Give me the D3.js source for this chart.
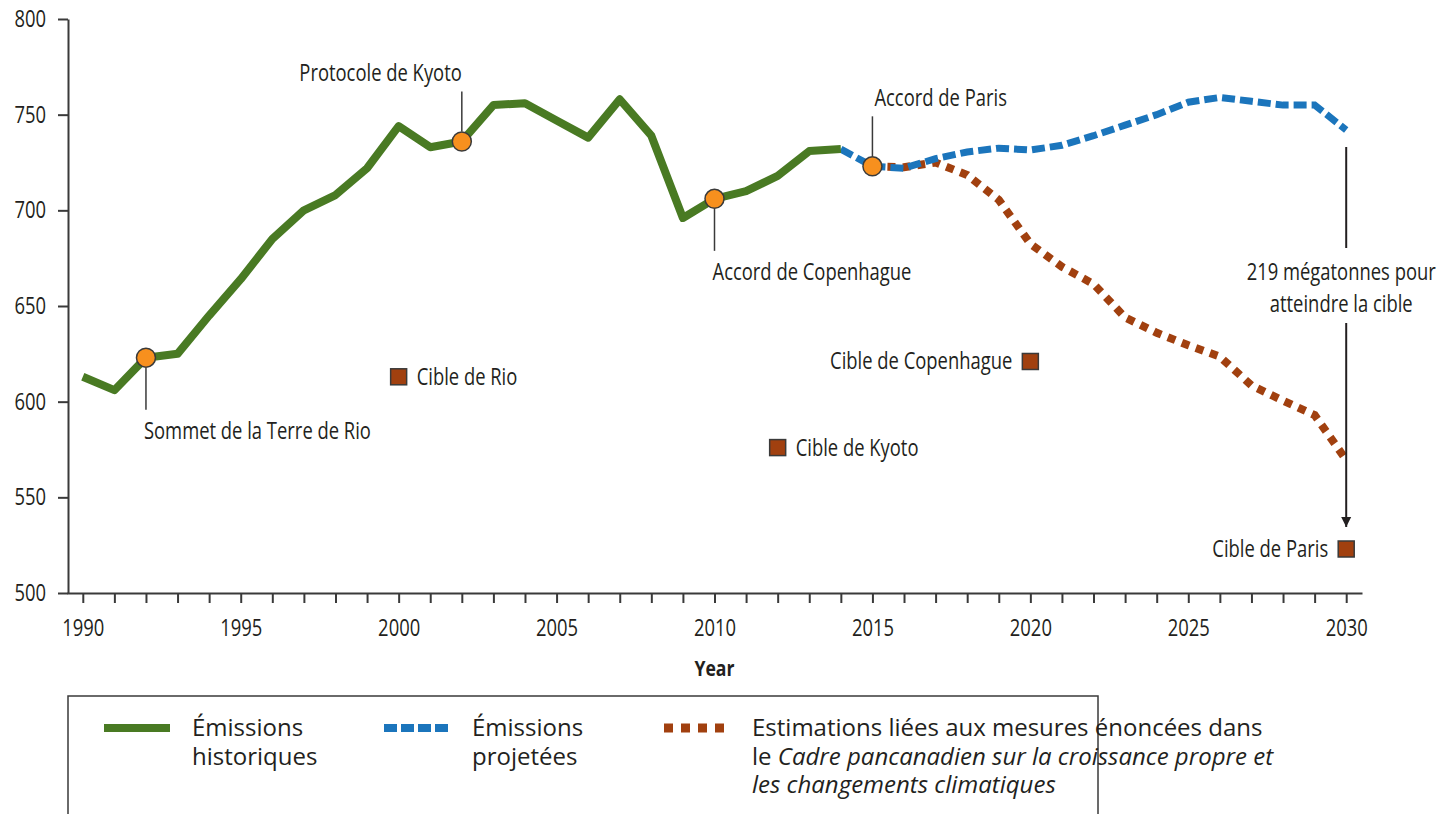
<!DOCTYPE html>
<html>
<head>
<meta charset="utf-8">
<script src="https://cdn.jsdelivr.net/npm/d3@7"></script>
<style>
  body { margin: 0; background: #fff; }
  svg text { fill: #231f20; }
</style>
</head>
<body>
<div id="container"></div>
<script>
/* DATA */
const histYears = d3.range(1990, 2015);
const histValues = [613, 606, 623, 625, 645, 664, 685, 700, 708, 722, 744, 733, 736, 755, 756, 747, 738, 758, 739, 696, 706, 710, 718, 731, 732];

const projYears = d3.range(2014, 2031);
const projValues = [732, 723, 722, 727, 730.5, 732.5, 731.5, 734, 739, 744.5, 750, 756.5, 759, 757, 755, 755, 742];

const estYears = d3.range(2015, 2031);
const estValues = [723, 722.5, 725, 718.5, 705.5, 682.5, 670.5, 661.5, 644, 636, 629.5, 623.5, 608.5, 600.5, 593, 569.5];

const milestones = [
  { year: 1992, value: 623, label: "Sommet de la Terre de Rio", pos: "below" },
  { year: 2002, value: 736, label: "Protocole de Kyoto", pos: "above-left" },
  { year: 2010, value: 706, label: "Accord de Copenhague", pos: "below" },
  { year: 2015, value: 723, label: "Accord de Paris", pos: "above" }
];

const targets = [
  { year: 2000, value: 613, label: "Cible de Rio", side: "right" },
  { year: 2012, value: 576, label: "Cible de Kyoto", side: "right" },
  { year: 2020, value: 621, label: "Cible de Copenhague", side: "left" },
  { year: 2030, value: 523, label: "Cible de Paris", side: "left" }
];

const yTicks = [500, 550, 600, 650, 700, 750, 800];

/* CONSTANTS */
const width = 1440, height = 814;
const green = "#497a23", blue = "#1b75bc", brown = "#a1400f";
const circleFill = "#f7901e", squareFill = "#a1400f";
const labelFont = "'Open Sans', sans-serif";
const labelSize = 23;
const squeezeK = 0.8;   // fake a condensed face

// squash text horizontally to look like a condensed font
function squeeze(sel, k = squeezeK) {
  sel.each(function() {
    const len = this.getComputedTextLength();
    if (len > 0) d3.select(this).attr("textLength", len * k).attr("lengthAdjust", "spacingAndGlyphs");
  });
}

const svg = d3.select("#container").append("svg")
  .attr("width", width).attr("height", height);

// scales
const x = d3.scaleLinear().domain([1989.5, 2030.5]).range([67, 1362]);
const y = d3.scaleLinear().domain([500, 800]).range([593, 19]);

// y axis
const yAxis = svg.append("g")
  .attr("transform", "translate(68,0)")
  .call(d3.axisLeft(y).tickValues(yTicks).tickSize(10).tickSizeOuter(0).tickPadding(12));

// x axis
const xAxis = svg.append("g")
  .attr("transform", "translate(0,593)")
  .call(d3.axisBottom(x).tickValues(d3.range(1990, 2031)).tickSize(10).tickSizeOuter(0).tickPadding(17)
    .tickFormat(d => d % 5 === 0 ? d : ""));

svg.selectAll(".domain, .tick line").attr("stroke", "#3a3a3a").attr("stroke-width", 2);
svg.selectAll(".tick text").attr("font-family", labelFont).attr("font-size", labelSize).attr("fill", "#231f20");
squeeze(svg.selectAll(".tick text"));

squeeze(svg.append("text")
  .attr("x", x(2010)).attr("y", 676)
  .attr("text-anchor", "middle")
  .attr("font-family", labelFont).attr("font-size", 22).attr("font-weight", "bold")
  .text("Year"));

// lines
const line = d3.line().x(d => x(d[0])).y(d => y(d[1]));

svg.append("path")
  .attr("d", line(d3.zip(estYears, estValues)))
  .attr("fill", "none").attr("stroke", brown).attr("stroke-width", 8)
  .attr("stroke-dasharray", "8 7");

svg.append("path")
  .attr("d", line(d3.zip(projYears, projValues)))
  .attr("fill", "none").attr("stroke", blue).attr("stroke-width", 7)
  .attr("stroke-dasharray", "13 5");

svg.append("path")
  .attr("d", line(d3.zip(histYears, histValues)))
  .attr("fill", "none").attr("stroke", green).attr("stroke-width", 8)
  .attr("stroke-linejoin", "round");

// milestone leader lines + labels
milestones.forEach(m => {
  const cx = x(m.year), cy = y(m.value);
  const g = svg.append("g");
  if (m.pos === "below") {
    g.append("line").attr("x1", cx).attr("x2", cx).attr("y1", cy + 10).attr("y2", cy + 52)
      .attr("stroke", "#3a3a3a").attr("stroke-width", 1.5);
    squeeze(g.append("text").attr("x", cx - 2).attr("y", cy + 81)
      .attr("font-family", labelFont).attr("font-size", labelSize).text(m.label));
  } else {
    g.append("line").attr("x1", cx).attr("x2", cx).attr("y1", cy - 10).attr("y2", cy - 50)
      .attr("stroke", "#3a3a3a").attr("stroke-width", 1.5);
    squeeze(g.append("text").attr("x", m.pos === "above" ? cx + 2 : cx)
      .attr("y", cy - 60)
      .attr("text-anchor", m.pos === "above" ? "start" : "end")
      .attr("font-family", labelFont).attr("font-size", labelSize).text(m.label));
  }
});

svg.selectAll("circle.milestone")
  .data(milestones)
  .join("circle")
  .attr("class", "milestone")
  .attr("cx", d => x(d.year)).attr("cy", d => y(d.value)).attr("r", 9.5)
  .attr("fill", circleFill).attr("stroke", "#3a3a3a").attr("stroke-width", 1.5);

// targets
svg.selectAll("rect.target")
  .data(targets)
  .join("rect")
  .attr("class", "target")
  .attr("x", d => x(d.year) - 8).attr("y", d => y(d.value) - 8)
  .attr("width", 16).attr("height", 16)
  .attr("fill", squareFill).attr("stroke", "#3a3a3a").attr("stroke-width", 1.5);

squeeze(svg.selectAll("text.target")
  .data(targets)
  .join("text")
  .attr("class", "target")
  .attr("x", d => d.side === "right" ? x(d.year) + 18 : x(d.year) - 18)
  .attr("y", d => y(d.value) + 8)
  .attr("text-anchor", d => d.side === "right" ? "start" : "end")
  .attr("font-family", labelFont).attr("font-size", labelSize)
  .text(d => d.label));

// gap annotation (projected 2030 vs Paris target)
const gapX = x(2030);
const projEnd = projValues[projValues.length - 1];
const parisTarget = targets[3].value;
svg.append("defs").append("marker")
  .attr("id", "arrow").attr("viewBox", "0 0 10 10")
  .attr("refX", 10).attr("refY", 5)
  .attr("markerWidth", 5).attr("markerHeight", 7).attr("markerUnits", "strokeWidth")
  .attr("orient", "auto")
  .append("path").attr("d", "M0,0 L10,5 L0,10 Z").attr("fill", "#231f20");

svg.append("line")
  .attr("x1", gapX).attr("x2", gapX).attr("y1", y(projEnd) + 17).attr("y2", 248)
  .attr("stroke", "#231f20").attr("stroke-width", 2);
svg.append("line")
  .attr("x1", gapX).attr("x2", gapX).attr("y1", 323).attr("y2", y(parisTarget) - 22)
  .attr("stroke", "#231f20").attr("stroke-width", 2)
  .attr("marker-end", "url(#arrow)");

const gapText = svg.append("text")
  .attr("text-anchor", "middle")
  .attr("font-family", labelFont).attr("font-size", labelSize);
gapText.append("tspan").attr("x", gapX - 5).attr("y", 280)
  .text(`${Math.round(projEnd - parisTarget)} mégatonnes pour`);
gapText.append("tspan").attr("x", gapX - 5).attr("y", 312).text("atteindre la cible");
squeeze(gapText.selectAll("tspan"));

// legend
const legend = svg.append("g");
legend.append("rect")
  .attr("x", 68).attr("y", 696).attr("width", 1030).attr("height", 140)
  .attr("fill", "none").attr("stroke", "#3a3a3a").attr("stroke-width", 1.5);

const legendItems = [
  { x: 104, color: green, dash: null, width: 8, lines: [["Émissions"], ["historiques"]] },
  { x: 384, color: blue, dash: "13 4", width: 8, lines: [["Émissions"], ["projetées"]] },
  { x: 664, color: brown, dash: "9 8", width: 9, lines: [
      ["Estimations liées aux mesures énoncées dans"],
      ["le ", "Cadre pancanadien sur la croissance propre et"],
      ["les changements climatiques"]] }
];

legendItems.forEach(item => {
  legend.append("line")
    .attr("x1", item.x).attr("x2", item.x + 66).attr("y1", 728).attr("y2", 728)
    .attr("stroke", item.color).attr("stroke-width", item.width)
    .attr("stroke-dasharray", item.dash);
  const t = legend.append("text")
    .attr("font-family", "'Open Sans', sans-serif").attr("font-size", 24);
  item.lines.forEach((parts, i) => {
    parts.forEach((p, j) => {
      const ts = t.append("tspan").text(p);
      if (j === 0) ts.attr("x", item.x + 88).attr("y", 736 + i * 28.5);
      const italic = (item.lines.length === 3 && ((i === 1 && j === 1) || i === 2));
      if (italic) ts.attr("font-style", "italic");
    });
  });
});
</script>
</body>
</html>
